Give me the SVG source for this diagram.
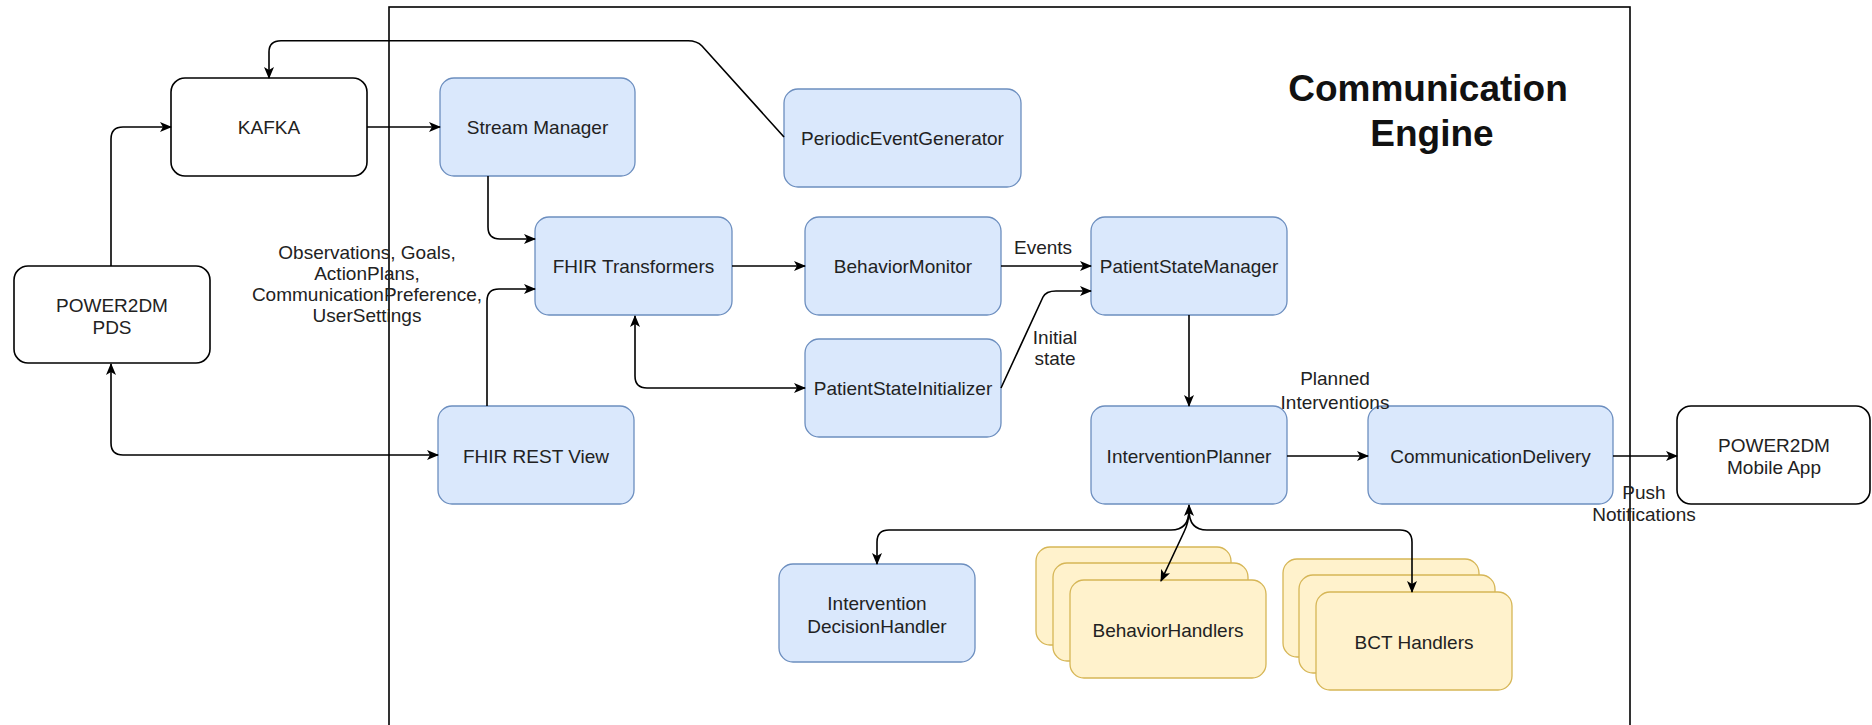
<svg xmlns="http://www.w3.org/2000/svg" width="1872" height="725" viewBox="0 0 1872 725">
<defs>
<marker id="arr" viewBox="0 0 12 10" refX="11" refY="5" markerWidth="12" markerHeight="10" markerUnits="userSpaceOnUse" orient="auto-start-reverse">
<path d="M0,0 L12,5 L0,10 L3,5 z" fill="#000"/>
</marker>
<style>
text{font-family:"Liberation Sans",Arial,sans-serif;font-size:19px;fill:#222;text-anchor:middle}
.w{fill:#fff;stroke:#000;stroke-width:1.6}
.b{fill:#dae8fc;stroke:#6c8ebf;stroke-width:1.3}
.y{fill:#fff2cc;stroke:#d6b656;stroke-width:1.3}
.c{fill:none;stroke:#000;stroke-width:1.6}
.title{font-size:37px;font-weight:bold;fill:#111}
</style>
</defs>
<rect width="1872" height="725" fill="#fff"/>
<g id="container">
<rect x="389" y="7" width="1241" height="740" fill="none" stroke="#000" stroke-width="1.6"/>
<text class="title" x="1428" y="101">Communication</text>
<text class="title" x="1432" y="146">Engine</text>
</g>
<g id="kafka"><rect class="w" x="171" y="78" width="196" height="98" rx="14"/><text x="269" y="134">KAFKA</text></g>
<g id="pds"><rect class="w" x="14" y="266" width="196" height="97" rx="14"/><text x="112" y="312">POWER2DM</text><text x="112" y="334">PDS</text></g>
<g id="stream-manager"><rect class="b" x="440" y="78" width="195" height="98" rx="14"/><text x="537.5" y="134">Stream Manager</text></g>
<g id="periodic-event-generator"><rect class="b" x="784" y="89" width="237" height="98" rx="14"/><text x="902.5" y="145">PeriodicEventGenerator</text></g>
<g id="fhir-transformers"><rect class="b" x="535" y="217" width="197" height="98" rx="14"/><text x="633.5" y="273">FHIR Transformers</text></g>
<g id="behavior-monitor"><rect class="b" x="805" y="217" width="196" height="98" rx="14"/><text x="903" y="273">BehaviorMonitor</text></g>
<g id="patient-state-manager"><rect class="b" x="1091" y="217" width="196" height="98" rx="14"/><text x="1189" y="273">PatientStateManager</text></g>
<g id="patient-state-initializer"><rect class="b" x="805" y="339" width="196" height="98" rx="14"/><text x="903" y="395">PatientStateInitializer</text></g>
<g id="fhir-rest-view"><rect class="b" x="438" y="406" width="196" height="98" rx="14"/><text x="536" y="463">FHIR REST View</text></g>
<g id="intervention-planner"><rect class="b" x="1091" y="406" width="196" height="98" rx="14"/><text x="1189" y="463">InterventionPlanner</text></g>
<g id="communication-delivery"><rect class="b" x="1368" y="406" width="245" height="98" rx="14"/><text x="1490.5" y="463">CommunicationDelivery</text></g>
<g id="mobile-app"><rect class="w" x="1677" y="406" width="193" height="98" rx="14"/><text x="1774" y="452">POWER2DM</text><text x="1774" y="474">Mobile App</text></g>
<g id="intervention-decision-handler"><rect class="b" x="779" y="564" width="196" height="98" rx="14"/><text x="877" y="610">Intervention</text><text x="877" y="633">DecisionHandler</text></g>
<g id="behavior-handlers">
<rect class="y" x="1036" y="547" width="195" height="98" rx="14"/>
<rect class="y" x="1053" y="563" width="195" height="98" rx="14"/>
<rect class="y" x="1070" y="580" width="196" height="98" rx="14"/>
<text x="1168" y="637">BehaviorHandlers</text>
</g>
<g id="bct-handlers">
<rect class="y" x="1283" y="559" width="196" height="98" rx="14"/>
<rect class="y" x="1299" y="575" width="196" height="98" rx="14"/>
<rect class="y" x="1316" y="592" width="196" height="98" rx="14"/>
<text x="1414" y="649">BCT Handlers</text>
</g>
<g id="connectors">
<path class="c" d="M784 137 L702 46 Q697 40.7 688 40.7 L281 40.7 Q269 40.7 269 52 L269 78" marker-end="url(#arr)"/>
<path class="c" d="M111 266 L111 139 Q111 127 123 127 L171 127" marker-end="url(#arr)"/>
<path class="c" d="M367 127 L440 127" marker-end="url(#arr)"/>
<path class="c" d="M488 176 L488 227 Q488 239 500 239 L535 239" marker-end="url(#arr)"/>
<path class="c" d="M487 406 L487 301 Q487 289 499 289 L535 289" marker-end="url(#arr)"/>
<path class="c" d="M111 364 L111 443 Q111 455 123 455 L438 455" marker-start="url(#arr)" marker-end="url(#arr)"/>
<path class="c" d="M732 266 L805 266" marker-end="url(#arr)"/>
<path class="c" d="M1001 266 L1091 266" marker-end="url(#arr)"/>
<path class="c" d="M635 316 L635 376 Q635 388 647 388 L805 388" marker-start="url(#arr)" marker-end="url(#arr)"/>
<path class="c" d="M1001 388 L1043 297 Q1046 291 1056 291 L1091 291" marker-end="url(#arr)"/>
<path class="c" d="M1189 315 L1189 406" marker-end="url(#arr)"/>
<path class="c" d="M1287 456 L1368 456" marker-end="url(#arr)"/>
<path class="c" d="M1613 456 L1677 456" marker-end="url(#arr)"/>
<path class="c" d="M1189 505 L1189 512" marker-start="url(#arr)"/>
<path class="c" d="M1189 510 Q1189 530 1171 530 L889 530 Q877 530 877 542 L877 564" marker-end="url(#arr)"/>
<path class="c" d="M1189 510 Q1189 530 1207 530 L1400 530 Q1412 530 1412 542 L1412 592" marker-end="url(#arr)"/>
<path class="c" d="M1189 510 Q1189 522 1184 532 L1161 581" marker-end="url(#arr)"/>
<text x="367" y="259">Observations, Goals,</text>
<text x="367" y="280">ActionPlans,</text>
<text x="367" y="301">CommunicationPreference,</text>
<text x="367" y="322">UserSettings</text>
<text x="1043" y="254">Events</text>
<text x="1055" y="344">Initial</text>
<text x="1055" y="365">state</text>
<text x="1335" y="385">Planned</text>
<text x="1335" y="409">Interventions</text>
<text x="1644" y="499">Push</text>
<text x="1644" y="521">Notifications</text>
</g>
</svg>
